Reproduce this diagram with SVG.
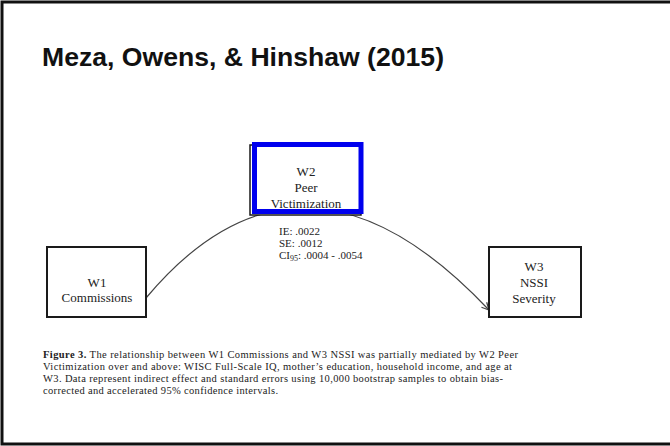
<svg xmlns="http://www.w3.org/2000/svg" width="670" height="446" viewBox="0 0 670 446">
  <style>
    .box { fill: #ffffff; stroke: #1a1a1a; stroke-width: 2; }
    .lbl { font-family: "Liberation Serif", "Times New Roman", serif; font-size: 13px; fill: #222; text-anchor: middle; }
    .stat { font-family: "Liberation Serif", "Times New Roman", serif; font-size: 11px; fill: #222; }
    .cap { font-family: "Liberation Serif", "Times New Roman", serif; font-size: 10.5px; fill: #222; }
    .edge { fill: none; stroke: #444; stroke-width: 1.2; }
  </style>
  <defs>
    <marker id="arrow" viewBox="0 0 10 10" refX="9" refY="5" markerWidth="9" markerHeight="9" markerUnits="userSpaceOnUse" orient="auto">
      <path d="M1,1 L9,5 L1,9" fill="none" stroke="#444" stroke-width="1.4"/>
    </marker>
  </defs>

  <!-- slide background and frame -->
  <rect x="0" y="0" width="670" height="446" fill="#ffffff"/>
  <path d="M672,2 H2 V444 H672" fill="none" stroke="#111" stroke-width="3"/>

  <text x="42" y="66" font-family="Liberation Sans, Arial, sans-serif" font-weight="bold" font-size="26" fill="#111" textLength="402" lengthAdjust="spacingAndGlyphs">Meza, Owens, &amp; Hinshaw (2015)</text>

  <!-- mediation path -->
  <g id="connectors">
    <path class="edge" d="M146,298 Q302,112 489,310" marker-end="url(#arrow)"/>
  </g>

  <g id="w1">
    <rect class="box" x="47" y="247" width="99" height="70"/>
    <text class="lbl" x="97" y="287">W1</text>
    <text class="lbl" x="97" y="302">Commissions</text>
  </g>

  <g id="w2">
    <rect x="250" y="145" width="111" height="70" fill="#ffffff" stroke="#1a1a1a" stroke-width="1.5"/>
    <rect x="254.5" y="144.5" width="106.5" height="67" fill="none" stroke="#0000ee" stroke-width="5"/>
    <text class="lbl" x="306" y="176">W2</text>
    <text class="lbl" x="306" y="192">Peer</text>
    <text class="lbl" x="306" y="208">Victimization</text>
  </g>

  <g id="w3">
    <rect class="box" x="489" y="247" width="92" height="70"/>
    <text class="lbl" x="534" y="271">W3</text>
    <text class="lbl" x="534" y="287">NSSI</text>
    <text class="lbl" x="534" y="303">Severity</text>
  </g>

  <g id="indirect-effect">
    <text class="stat" x="279" y="235">IE: .0022</text>
    <text class="stat" x="279" y="247">SE: .0012</text>
    <text class="stat" x="279" y="259">CI<tspan font-size="8" dy="2">95</tspan><tspan dy="-2">: .0004 - .0054</tspan></text>
  </g>

  <g id="caption">
    <text class="cap" x="43" y="358" textLength="475" lengthAdjust="spacing"><tspan font-weight="bold">Figure 3.</tspan> The relationship between W1 Commissions and W3 NSSI was partially mediated by W2 Peer</text>
    <text class="cap" x="43" y="370" textLength="469" lengthAdjust="spacing">Victimization over and above: WISC Full-Scale IQ, mother’s education, household income, and age at</text>
    <text class="cap" x="43" y="382" textLength="460" lengthAdjust="spacing">W3. Data represent indirect effect and standard errors using 10,000 bootstrap samples to obtain bias-</text>
    <text class="cap" x="43" y="394" textLength="235" lengthAdjust="spacing">corrected and accelerated 95% confidence intervals.</text>
  </g>
</svg>
